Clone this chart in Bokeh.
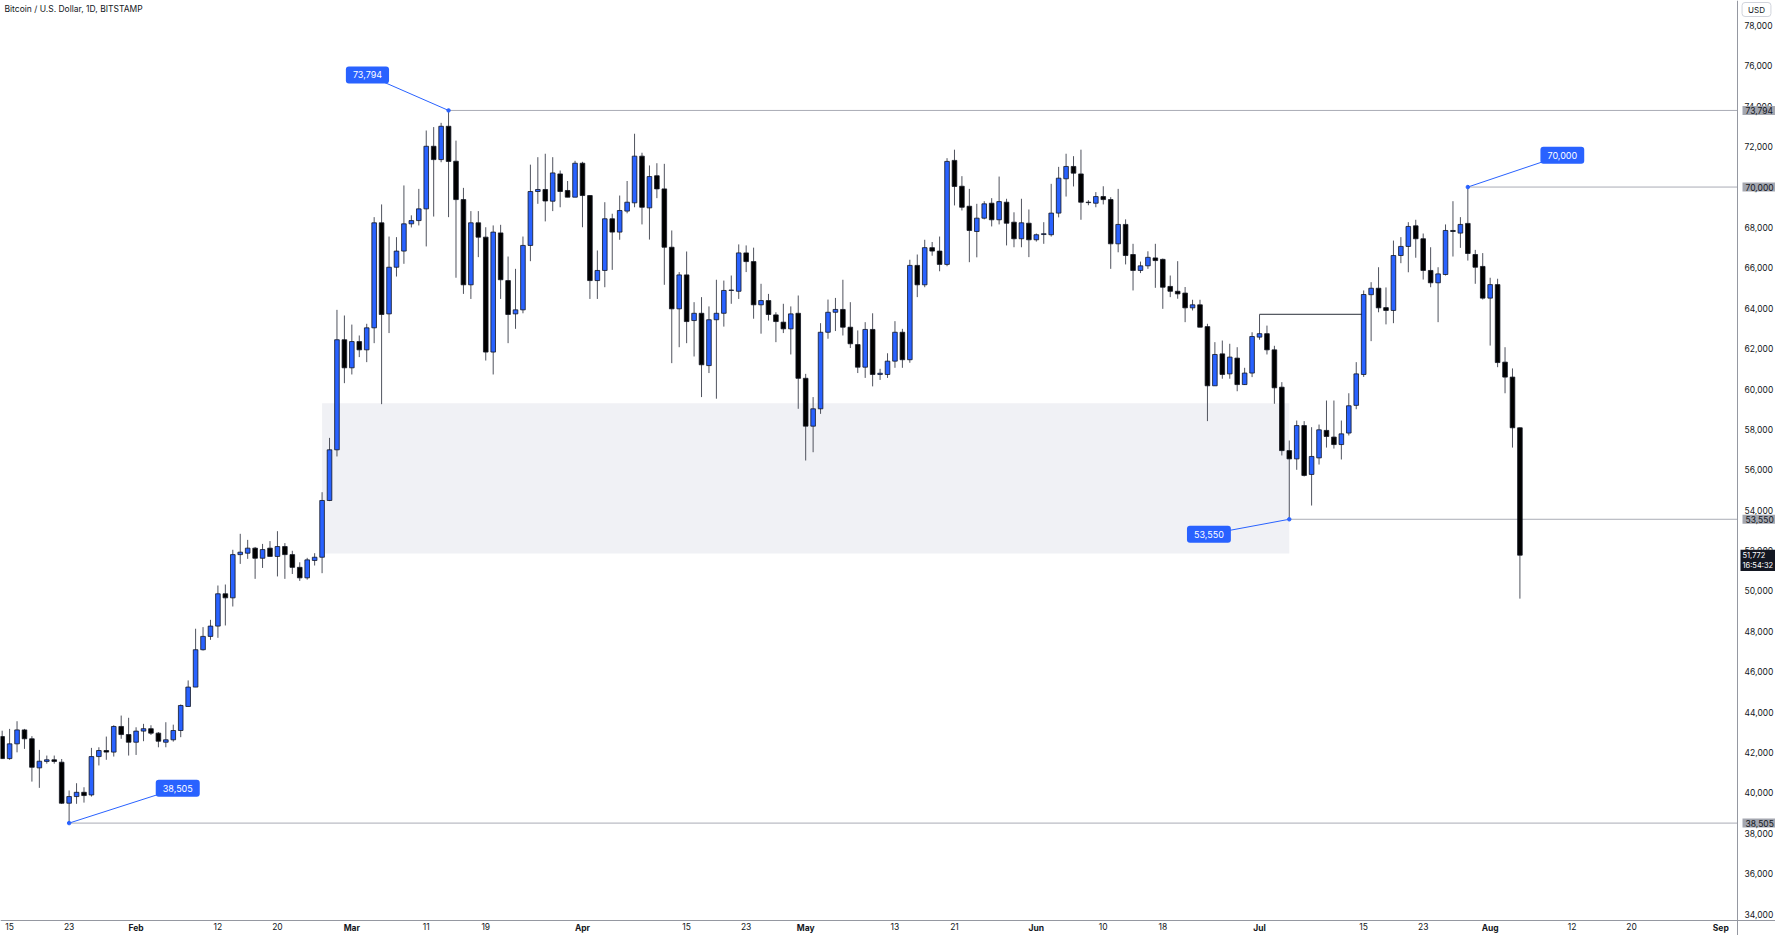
import pandas as pd
from bokeh.plotting import figure
from bokeh.models import ColumnDataSource, FixedTicker, Label, Range1d, NumeralTickFormatter, LinearAxis
from bokeh.embed import file_html
from bokeh.resources import INLINE

# ---------------- data (daily candles, BTC/USD Bitstamp, from 2024-01-14) ----------------
FIRST_DATE = "2024-01-14"

opens = [
    # Jan 14-31
    42790, 41700, 42430, 43120, 42680, 41240, 41560, 41640, 41520, 39490, 39820, 40030, 39900, 41800, 42100, 42020, 43290, 42890,
    # Feb
    42510, 43060, 43180, 42960, 42510, 42630, 43090, 44280, 45240, 47090, 47750, 48260, 49860, 49660, 51800, 51870, 52120, 51620,
    52120, 51710, 52200, 51800, 51170, 50650, 51510, 51670, 54480, 56990, 62440,
    # Mar
    61050, 62350, 61940, 63030, 68230, 63720, 66030, 66830, 68180, 68340, 68920, 72020, 71360, 73010, 71280, 69380, 65160, 68230,
    67520, 61830, 67730, 65370, 63720, 63920, 67110, 69780, 69880, 69300, 70650, 69830, 69500,
    # Apr
    71180, 69580, 65370, 65870, 68430, 67770, 68810, 69220, 71530, 68970, 70560, 69910, 67020, 63970, 65650, 63390, 63750, 61160,
    63430, 63750, 64880, 64840, 66740, 66310, 64170, 64380, 63670, 63310, 62980, 63750,
    # May
    60530, 58160, 59020, 62810, 63800, 63940, 63060, 62200, 61080, 62950, 60720, 60720, 61380, 62810, 61450, 66120, 65160, 67000,
    66830, 66170, 71320, 70040, 69050, 67800, 68460, 69200, 68380, 69250, 68260, 67440, 68210,
    # Jun
    67390, 67650, 67640, 68710, 70410, 71020, 70650, 69250, 69200, 69530, 69380, 67190, 68150, 66660, 65870, 66100, 66490, 66420,
    65080, 64840, 64750, 64020, 64170, 63090, 60160, 61740, 60750, 61530, 60220, 60790,
    # Jul
    62570, 62740, 61940, 60090, 56950, 56540, 58190, 55770, 56590, 57950, 57620, 57250, 57820, 59190, 60720, 64670, 64990, 64030,
    63890, 66610, 67060, 68080, 67440, 65870, 65260, 65670, 67850, 67720, 68200, 66660, 66070,
    # Aug 1-5
    64500, 65170, 61330, 60590, 58080,
]
highs = [
    43080, 43170, 43550, 43170, 42810, 42130, 41850, 41850, 41680, 40120, 40480, 40280, 42230, 42260, 42790, 43350, 43830, 43720,
    43250, 43420, 43350, 43010, 43500, 43380, 44380, 45570, 48130, 48210, 48570, 50270, 50320, 52040, 52830, 52530, 52180, 52330,
    52470, 52960, 52370, 51990, 51420, 51640, 51870, 54890, 57580, 63920, 63640,
    63190, 62650, 63230, 68510, 69140, 67550, 67520, 70080, 68600, 69910, 72800, 72970, 73180, 73794, 72300, 69960, 68810, 68810,
    68010, 68100, 68130, 66560, 65950, 67550, 71110, 71480, 71650, 71480, 70820, 70300, 71300,
    71250, 69600, 66860, 69250, 68680, 69580, 70300, 72640, 71700, 71070, 71180, 71150, 67850, 65790, 66810, 64300, 64550, 64090,
    65410, 65370, 65620, 67160, 67110, 67000, 65210, 64710, 63800, 64220, 64090, 64630,
    60750, 59600, 63260, 64430, 64510, 65410, 64300, 62900, 63310, 63750, 61000, 61770, 63360, 62980, 66400, 66660, 67390, 67280,
    67550, 71430, 71850, 70540, 69910, 69170, 69300, 69450, 70520, 69420, 68750, 69420, 68890,
    67700, 68260, 70160, 71000, 71650, 71530, 71850, 69350, 69750, 70040, 69500, 69910, 68400, 67190, 66310, 66820, 67190, 66460,
    65620, 66330, 65050, 64420, 64420, 63230, 62320, 62400, 62240, 62070, 61050, 62810,
    63700, 63140, 62140, 60340, 57450, 58440, 58410, 58110, 58240, 59430, 59430, 58440, 59790, 61330, 64880, 65290, 66030, 65030,
    67350, 67520, 68260, 68380, 67700, 67020, 66030, 68150, 69300, 68510, 70000, 66890, 66730,
    65510, 65460, 62070, 61020, 58100,
]
lows = [
    41690, 41640, 42010, 42180, 40560, 40250, 41450, 41450, 39450, 38505, 39460, 39520, 39820, 41360, 41640, 41800, 42680, 41850,
    41880, 42560, 42870, 42260, 42260, 42540, 42760, 44280, 45240, 47050, 47580, 47680, 48290, 49230, 51340, 51590, 50600, 51140,
    51700, 50720, 50600, 50840, 50500, 50560, 51260, 50880, 54450, 56660, 60290,
    60720, 61580, 61330, 62270, 59250, 62770, 65570, 66200, 68000, 68100, 67060, 68540, 71230, 68510, 65510, 64710, 64460, 66530,
    61410, 60720, 64460, 62270, 62980, 63750, 66330, 69170, 68300, 68810, 69000, 69500, 69500,
    68010, 64460, 64460, 65040, 65900, 67390, 68700, 69000, 68150, 67400, 69450, 65160, 61280, 62070, 62270, 61610, 59600, 60790,
    59520, 63090, 64220, 64460, 65790, 63480, 62740, 63390, 62320, 62770, 61710, 59020,
    56460, 56870, 58770, 62490, 62870, 62650, 62030, 60790, 60550, 60130, 60450, 60550, 61050, 61050, 61300, 64550, 65040, 66600,
    65830, 66080, 69090, 68840, 66280, 66520, 68400, 68050, 68150, 67110, 67020, 67020, 66530,
    67300, 67190, 67550, 68500, 69530, 70030, 68380, 69100, 69000, 69140, 65950, 66770, 66170, 64880, 65740, 65950, 65010, 63970,
    64550, 64470, 63310, 63890, 63060, 58410, 60160, 60510, 60510, 59890, 60200, 60590,
    62440, 61710, 59270, 56710, 53550, 56000, 55670, 54230, 56260, 57100, 57050, 56510, 57700, 59000, 60600, 62370, 63800, 63200,
    63260, 66230, 65780, 66500, 65420, 65040, 63310, 65620, 66560, 66990, 66360, 65210, 64430,
    62150, 61080, 59790, 57100, 49620,
]
closes = [
    41700, 42430, 43120, 42680, 41270, 41570, 41640, 41560, 39490, 39820, 40030, 39870, 41800, 42100, 42020, 43290, 42890, 42510,
    43060, 43180, 42960, 42560, 42630, 43090, 44330, 45240, 47090, 47750, 48260, 49860, 49660, 51800, 51920, 52120, 51620, 52050,
    51710, 52200, 51800, 51170, 50650, 51540, 51670, 54480, 56990, 62440, 61050,
    62350, 61940, 63030, 68230, 63690, 66030, 66830, 68180, 68340, 68920, 72020, 71360, 73010, 71270, 69380, 65160, 68230, 67520,
    61830, 67770, 65410, 63690, 63920, 67110, 69780, 69880, 69310, 70700, 69780, 69500, 71180,
    69580, 65370, 65870, 68430, 67770, 68840, 69250, 71530, 69000, 70520, 69910, 67020, 63970, 65650, 63340, 63750, 61200, 63430,
    63750, 64880, 64900, 66740, 66310, 64170, 64380, 63690, 63340, 62980, 63720, 60530,
    58160, 59020, 62810, 63800, 63940, 63060, 62240, 61080, 62950, 60720, 60780, 61380, 62810, 61450, 66120, 65160, 67000, 66830,
    66170, 71270, 70030, 69000, 67850, 68460, 69170, 68380, 69280, 68210, 67440, 68230, 67390,
    67640, 67690, 68710, 70440, 71020, 70690, 69250, 69230, 69530, 69380, 67190, 68150, 66610, 65870, 66100, 66520, 66360, 65040,
    64840, 64710, 64020, 64170, 63060, 60160, 61710, 60720, 61580, 60220, 60790, 62600,
    62740, 61940, 60060, 56950, 56540, 58190, 55720, 56660, 57980, 57650, 57250, 57780, 59170, 60750, 64680, 64990, 64020, 63890,
    66610, 67060, 68050, 67440, 65870, 65260, 65700, 67850, 67800, 68150, 66710, 66030, 64500,
    65170, 61310, 60590, 58080, 51772,
]

# marked price levels (callouts)
level_dates = ["2024-03-14", "2024-07-29", "2024-07-05", "2024-01-23"]
level_values = [73794, 70000, 53550, 38505]
level_labels = ["73,794", "70,000", "53,550", "38,505"]

# shaded zone
zone_start, zone_end = "2024-02-26", "2024-07-05"
zone_low, zone_high = 51850, 59300

# range high line
range_start, range_end, range_level = "2024-07-01", "2024-07-15", 63700

# current price tag
last_price_label = "51,772"
countdown_label = "16:54:32"

# axis ticks
price_ticks = [34000, 36000, 38000, 40000, 42000, 44000, 46000, 48000, 50000, 52000, 54000, 56000,
               58000, 60000, 62000, 64000, 66000, 68000, 70000, 72000, 74000, 76000, 78000]
day_tick_dates = ["2024-01-15", "2024-01-23", "2024-02-12", "2024-02-20", "2024-03-11", "2024-03-19",
                  "2024-04-15", "2024-04-23", "2024-05-13", "2024-05-21", "2024-06-10", "2024-06-18",
                  "2024-07-15", "2024-07-23", "2024-08-12", "2024-08-20"]
day_tick_labels = ["15", "23", "12", "20", "11", "19", "15", "23", "13", "21", "10", "18", "15", "23", "12", "20"]
month_tick_dates = ["2024-02-01", "2024-03-01", "2024-04-01", "2024-05-01", "2024-06-01",
                    "2024-07-01", "2024-08-01", "2024-09-01"]
month_tick_labels = ["Feb", "Mar", "Apr", "May", "Jun", "Jul", "Aug", "Sep"]

TITLE = "Bitcoin / U.S. Dollar, 1D, BITSTAMP"

# ---------------- layout / styling ----------------
BLUE = "#2962ff"
DARK = "#131722"
FONT = "Inter"
W, H = 1775, 935
PX_PER_DAY = 7.44
PRICE_PER_PX = 49.517
X_LEFT = -1.223          # days relative to BASE at the left edge
Y_TOP = 79238            # price at the top edge
AXIS_PX_X = 1737         # pixel column of the price axis line
AXIS_PX_Y = 920          # pixel row of the time axis line

BASE = pd.Timestamp("2024-01-15")


def dx(d):
    return (pd.Timestamp(d) - BASE).days


x_right = X_LEFT + W / PX_PER_DAY
y_bottom = Y_TOP - H * PRICE_PER_PX
axis_x = X_LEFT + AXIS_PX_X / PX_PER_DAY
axis_y = Y_TOP - AXIS_PX_Y * PRICE_PER_PX

dates = pd.date_range(FIRST_DATE, periods=len(opens), freq="D")
xs = [(d - BASE).days for d in dates]
src = ColumnDataSource(dict(
    x=xs, o=opens, h=highs, l=lows, c=closes,
    top=[max(o, c) for o, c in zip(opens, closes)],
    bottom=[min(o, c) for o, c in zip(opens, closes)],
    fill=[BLUE if c >= o else "#000000" for o, c in zip(opens, closes)],
))

p = figure(width=W, height=H, x_range=Range1d(X_LEFT, x_right), y_range=Range1d(y_bottom, Y_TOP),
           output_backend="svg", toolbar_location=None, x_axis_location=None, y_axis_location=None,
           min_border_left=0, min_border_top=0, min_border_right=0, min_border_bottom=0,
           background_fill_color="white", border_fill_color="white", outline_line_color=None)
p.xgrid.visible = False
p.ygrid.visible = False

# zone
p.quad(left=[dx(zone_start)], right=[dx(zone_end)], bottom=[zone_low], top=[zone_high],
       fill_color="#f0f1f5", line_color=None)

# level lines (to the price axis)
lvl_x = [dx(d) for d in level_dates]
p.segment(x0=lvl_x, y0=level_values, x1=[axis_x] * len(lvl_x), y1=level_values,
          line_color="#a9acb5", line_width=1)

# range line
p.line(x=[dx(range_start), dx(range_end)], y=[range_level, range_level], line_color="#2a2e39", line_width=1)

# candles
p.segment(x0="x", y0="l", x1="x", y1="h", source=src, line_color="#50535e", line_width=1)
p.vbar(x="x", width=0.62, top="top", bottom="bottom", fill_color="fill", line_color="#131722",
       line_width=0.8, source=src)

# callouts: (day offset, price offset) of each box from its anchor point
callout_offsets = [(-10.9, 1755), (12.7, 1578), (-10.8, -740), (14.6, 1729)]
for ax, ay, txt, (ox, oy) in zip(lvl_x, level_values, level_labels, callout_offsets):
    bx, by = ax + ox, ay + oy
    p.segment(x0=[bx], y0=[by], x1=[ax], y1=[ay], line_color=BLUE, line_width=1)
    p.scatter(x=[ax], y=[ay], size=3.5, color=BLUE)
    p.add_layout(Label(x=bx, y=by, text=txt, text_color="white", text_font=FONT, text_font_size="9px",
                       text_align="center", text_baseline="middle", background_fill_color=BLUE,
                       border_radius=3, padding=(7, 5)))

# axes, drawn at fixed locations inside the canvas
yaxis = LinearAxis(fixed_location=axis_x)
yaxis.ticker = FixedTicker(ticks=price_ticks)
yaxis.formatter = NumeralTickFormatter(format="0,0")
yaxis.major_label_text_font = FONT
yaxis.major_label_text_font_size = "8.5px"
yaxis.major_label_text_color = DARK
yaxis.major_tick_line_color = None
yaxis.minor_tick_line_color = None
yaxis.major_tick_out = 0
yaxis.major_tick_in = 0
yaxis.minor_tick_out = 0
yaxis.minor_tick_in = 0
yaxis.major_label_standoff = 7
yaxis.axis_line_color = "#9598a1"
p.add_layout(yaxis, "right")

xaxis = LinearAxis(fixed_location=axis_y)
xaxis.ticker = FixedTicker(ticks=[dx(d) for d in day_tick_dates])
xaxis.major_label_overrides = {dx(d): lab for d, lab in zip(day_tick_dates, day_tick_labels)}
xaxis.major_label_text_font = FONT
xaxis.major_label_text_font_size = "8.5px"
xaxis.major_label_text_color = DARK
xaxis.major_tick_line_color = None
xaxis.minor_tick_line_color = None
xaxis.major_tick_out = 0
xaxis.major_tick_in = 0
xaxis.minor_tick_out = 0
xaxis.minor_tick_in = 0
xaxis.major_label_standoff = 2
xaxis.axis_line_color = "#9598a1"
p.add_layout(xaxis, "below")

for d, m in zip(month_tick_dates, month_tick_labels):
    p.add_layout(Label(x=dx(d), y=H - AXIS_PX_Y - 7.5, y_units="screen", text=m, text_font=FONT,
                       text_font_size="8.5px", text_font_style="bold", text_color=DARK,
                       text_align="center", text_baseline="middle"))

# price tags on the axis
for v, txt in zip(level_values, level_labels):
    p.add_layout(Label(x=AXIS_PX_X + 5, y=v, x_units="screen", text=txt, text_font=FONT, text_font_size="8.5px",
                       text_color=DARK, text_align="left", text_baseline="middle",
                       background_fill_color="#a3a6af", padding=(3, 1)))
p.add_layout(Label(x=AXIS_PX_X + 3, y=closes[-1] - 260, x_units="screen",
                   text=last_price_label + "\n" + countdown_label, text_font=FONT, text_font_size="7.5px",
                   text_color="white", text_align="left", text_baseline="middle", text_line_height=1.15,
                   background_fill_color=DARK, padding=(2, 1)))

# title and currency
p.add_layout(Label(x=4, y=H - 3, x_units="screen", y_units="screen", text=TITLE, text_font=FONT,
                   text_font_size="8.5px", text_color=DARK, text_baseline="top"))
p.add_layout(Label(x=AXIS_PX_X + 19, y=H - 9, x_units="screen", y_units="screen", text="USD",
                   text_font=FONT, text_font_size="8px", text_color=DARK, text_align="center",
                   text_baseline="middle", border_line_color="#d1d4dc", border_radius=3, padding=(6, 2)))

open("out.html", "w").write(file_html(p, INLINE))
